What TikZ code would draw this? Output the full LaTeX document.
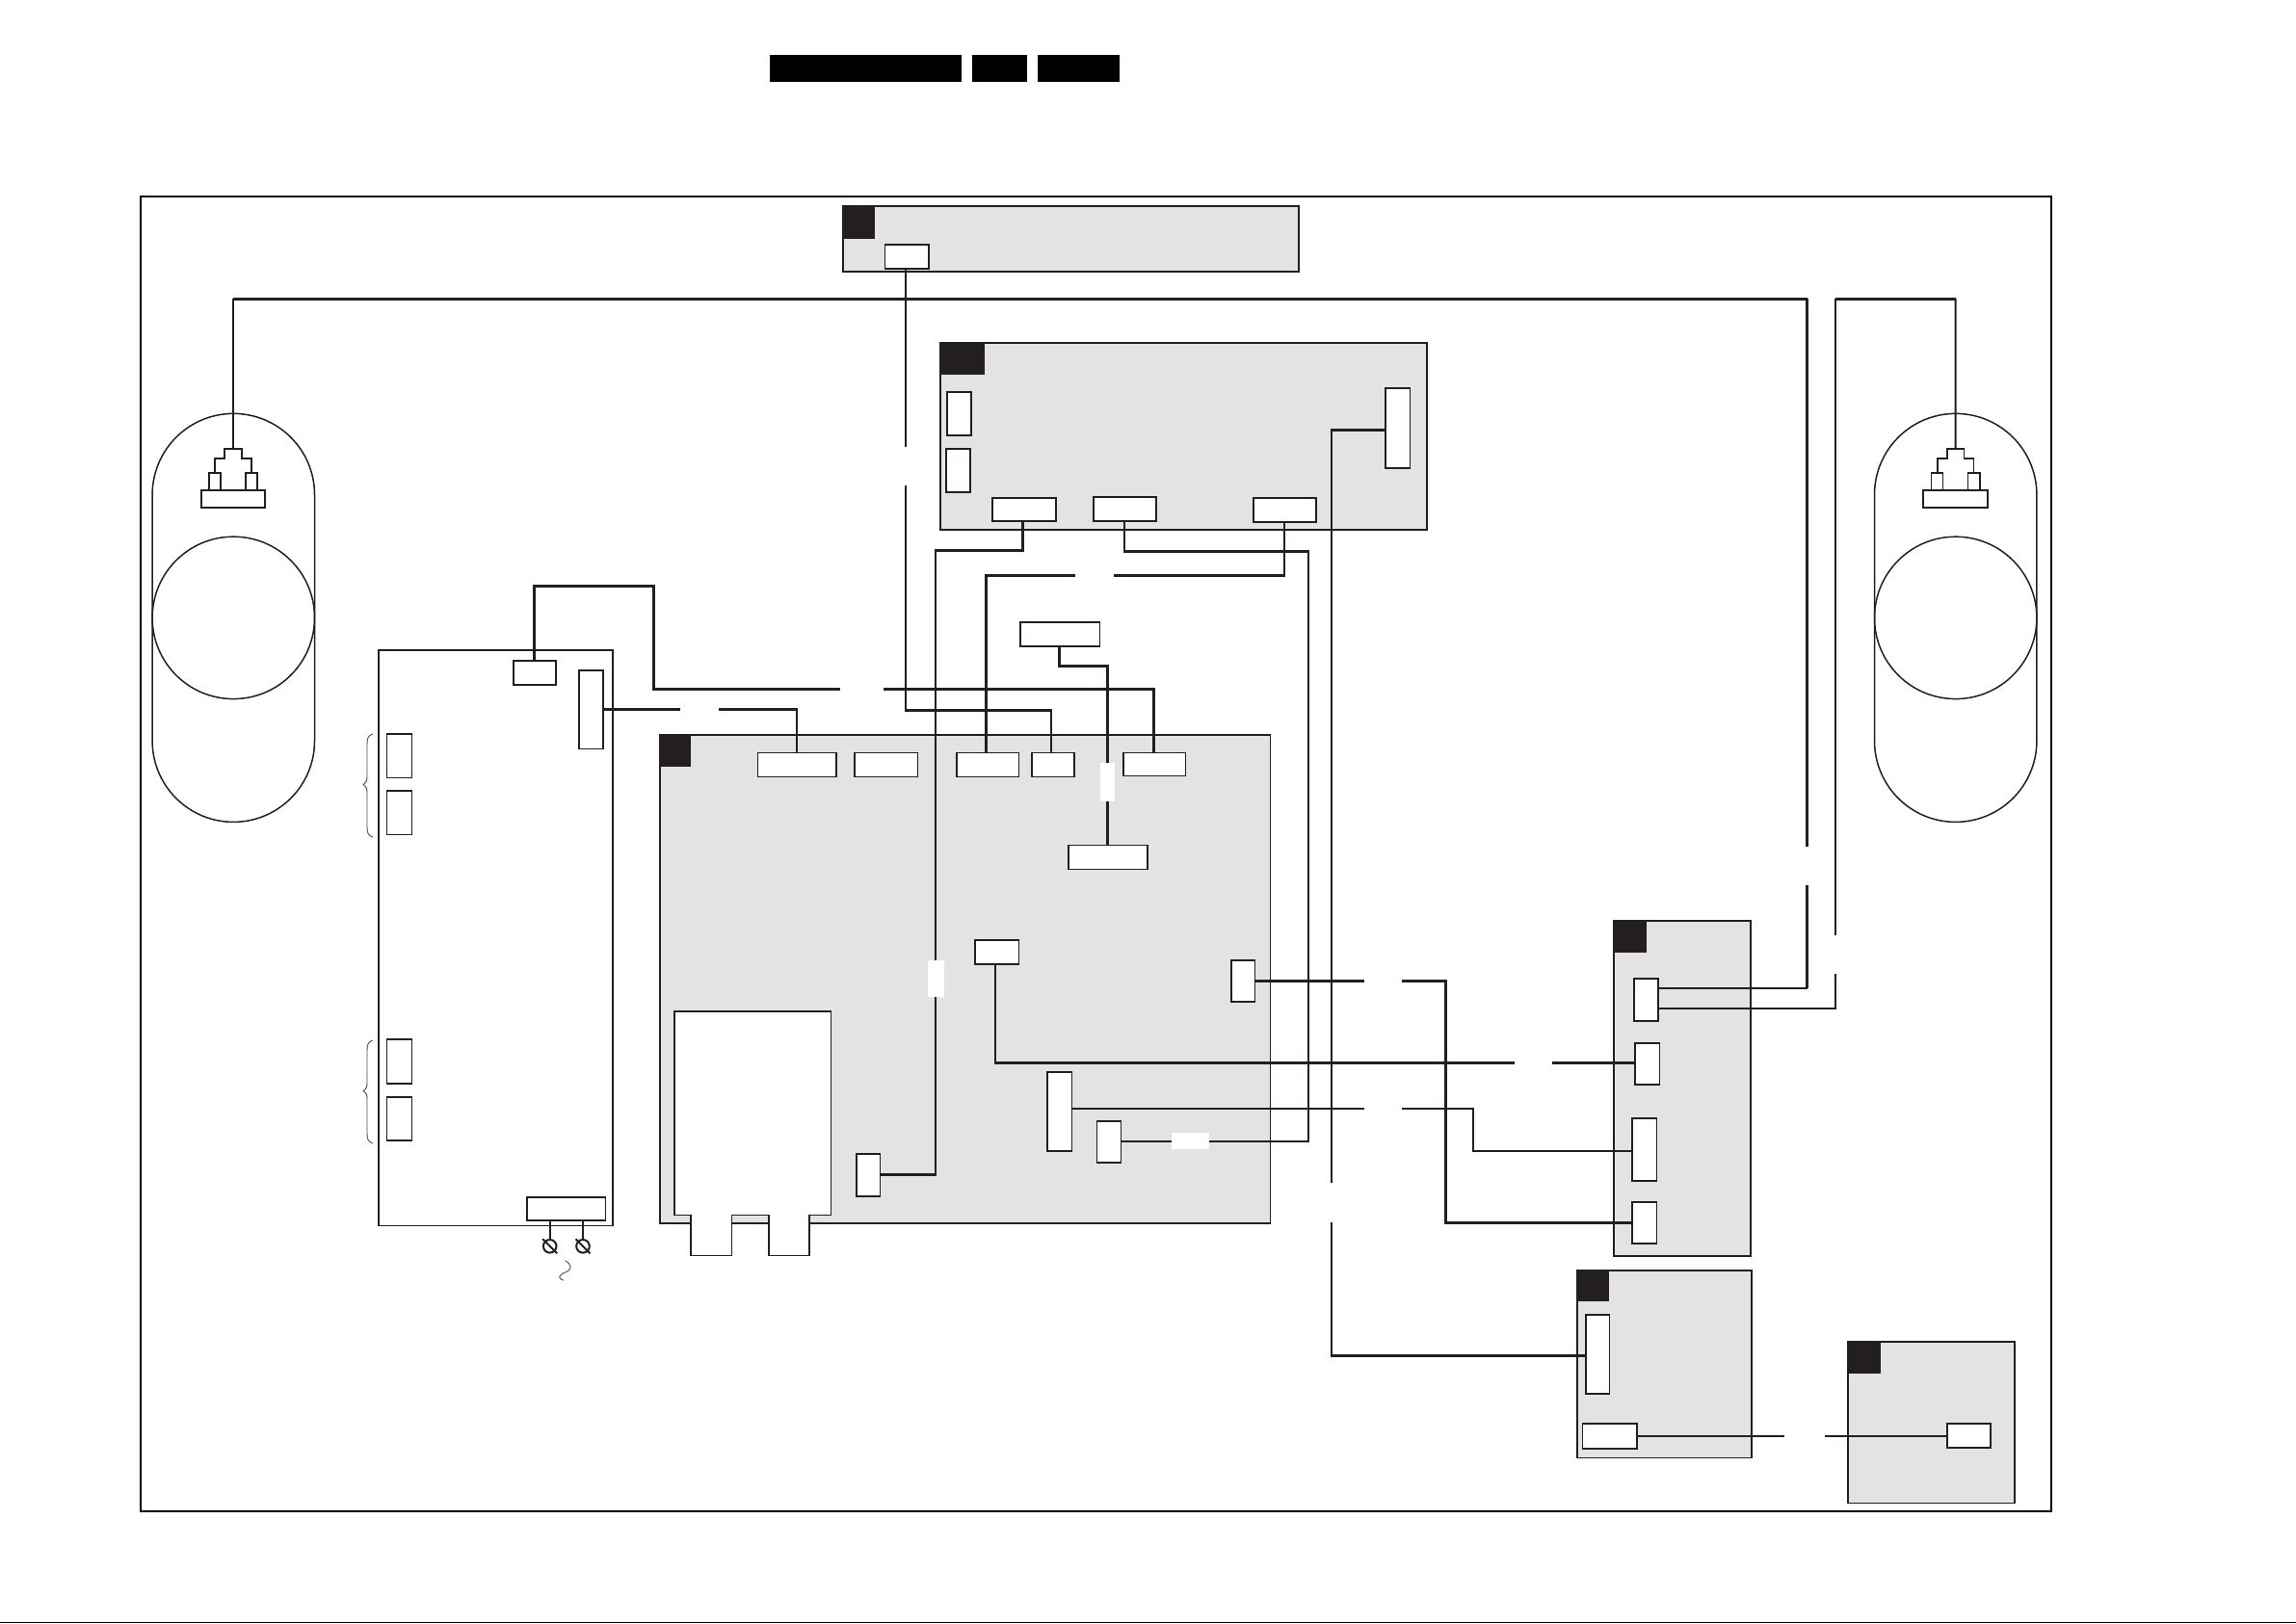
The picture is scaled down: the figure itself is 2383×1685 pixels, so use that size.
\documentclass[tikz,border=0pt]{standalone}
\usetikzlibrary{calc}
\definecolor{ink}{HTML}{231F20}
\definecolor{panel}{HTML}{E3E3E3}
\tikzset{
  conn/.style={draw=ink,fill=white,line width=1.9pt,inner sep=0pt,outer sep=0pt},
  board/.style={draw=ink,fill=panel,line width=1.6pt,inner sep=0pt,outer sep=0pt},
  plainbox/.style={draw=ink,fill=white,line width=1.5pt,inner sep=0pt,outer sep=0pt},
  tab/.style={fill=ink,inner sep=0pt,outer sep=0pt},
  bar/.style={fill=black,inner sep=0pt,outer sep=0pt},
  wire/.style={draw=ink,line width=2.5pt},
  wirethick/.style={draw=ink,line width=3.2pt},
  wirethin/.style={draw=ink,line width=1.9pt},
  outline/.style={draw=ink,line width=1.4pt},
  hair/.style={draw=ink!80,line width=.9pt}
}
\newcommand\bx[6]{\node[#1,minimum width={#5-#3},minimum height={#6-#4}] (#2) at ({(#3+#5)/2},{(#4+#6)/2}) {};}
\begin{document}
\begin{tikzpicture}[x=1pt,y=-1.0006pt]
\useasboundingbox (0,0) rectangle (2383,1684);
\fill[white] (0,0) rectangle (2383,1684);
% page edge
\fill[black] (0,1683) rectangle (2383,1684);
% header bars
\bx{bar}{barA}{799}{57}{998}{85}
\bx{bar}{barB}{1009}{57}{1066}{85}
\bx{bar}{barC}{1077}{57}{1162}{85}
% frame
\bx{draw=black,line width=2pt,inner sep=0pt}{frame}{145.5}{203}{2129}{1568}
% boards
\bx{board}{ba}{875}{214}{1348}{282}
\bx{board}{bb}{976}{356}{1481}{550}
\bx{board}{bc}{685}{762.5}{1318.5}{1269.5}
\bx{board}{bd}{1675}{955.5}{1817}{1303.5}
\bx{board}{be}{1637}{1318}{1818}{1512.5}
\bx{board}{bf}{1918}{1392}{2091}{1559.5}
\bx{plainbox}{psu}{393}{674.5}{636}{1272}
% tabs
\bx{tab}{ta}{875}{214}{908}{247.5}
\bx{tab}{tb}{976}{356}{1022}{389}
\bx{tab}{tc}{685}{762.5}{717}{795.5}
\bx{tab}{td}{1675}{955.5}{1709}{988.5}
\bx{tab}{te}{1637}{1318}{1670}{1350.5}
\bx{tab}{tf}{1918}{1392}{1952}{1425}
% card outline in main board
\draw[fill=white,outline] (700,1049.5) -- (862.5,1049.5) -- (862.5,1260.7) -- (840,1260.7) -- (840,1303) -- (798,1303) -- (798,1260.7) -- (759.7,1260.7) -- (759.7,1303) -- (717,1303) -- (717,1260.7) -- (700,1260.7) -- cycle;
% speakers
\node[draw=ink,line width=1.5pt,inner sep=0pt,outer sep=0pt,rounded corners=84.2pt,minimum width=168.4pt,minimum height=424pt] (spkL) at (242.3,641) {};
\node[draw=ink,line width=1.5pt,inner sep=0pt,outer sep=0pt,rounded corners=84.2pt,minimum width=168.4pt,minimum height=424pt] (spkR) at (2029.7,641) {};
\node[draw=ink,line width=1.5pt,circle,inner sep=0pt,outer sep=0pt,minimum size=168.4pt] (coneL) at (242.3,641) {};
\node[draw=ink,line width=1.5pt,circle,inner sep=0pt,outer sep=0pt,minimum size=168.4pt] (coneR) at (2029.7,641) {};
% speaker plugs
\foreach \o/\n in {0/L,1787.4/R}{
  \begin{scope}[xshift=\o pt]
  \draw[outline,line width=1.8pt] (223.3,490.7) -- (223.3,475.7) -- (233.3,475.7) -- (233.3,465.7) -- (251,465.7) -- (251,475.7) -- (261,475.7) -- (261,490.7);
  \draw[outline,line width=1.8pt] (217,508.7) rectangle (229,490.7);
  \draw[outline,line width=1.8pt] (255,508.7) rectangle (267.3,490.7);
  \bx{conn}{plug\n}{209}{508.7}{275.3}{527}
  \coordinate (plugtop\n) at (242.2,465.7);
  \end{scope}
}
% connectors
\bx{conn}{a1}{918.5}{254}{964}{279}
\bx{conn}{b1}{983}{407}{1008}{452}
\bx{conn}{b2}{982}{466}{1007}{511}
\bx{conn}{b3}{1030}{517}{1096}{541}
\bx{conn}{b4}{1135}{516}{1200}{541}
\bx{conn}{b5}{1301}{517}{1366}{542}
\bx{conn}{b6}{1438}{403}{1463.5}{486}
\bx{conn}{p1}{533}{686}{577}{711}
\bx{conn}{p2}{601}{695.5}{626}{777}
\bx{conn}{p3}{401.5}{761.5}{427.5}{807}
\bx{conn}{p4}{401.5}{820.5}{427.5}{866}
\bx{conn}{p5}{401.5}{1078.5}{427.5}{1124}
\bx{conn}{p6}{401.5}{1138}{427.5}{1183}
\bx{conn}{p7}{547}{1242}{628.5}{1266}
\bx{conn}{c0}{1059}{646}{1141.5}{671}
\bx{conn}{c1}{786.5}{781}{868}{806}
\bx{conn}{c2}{887}{781}{952.5}{806}
\bx{conn}{c3}{993}{781}{1057.5}{806}
\bx{conn}{c4}{1071}{781}{1115}{806}
\bx{conn}{c5}{1166}{781}{1230.5}{805}
\bx{conn}{c6}{1109}{877}{1191}{902}
\bx{conn}{c7}{1012}{975}{1057.5}{1000}
\bx{conn}{c8}{1278}{996.5}{1302.5}{1039}
\bx{conn}{c9}{1087}{1112}{1112.5}{1194}
\bx{conn}{c10}{1138.5}{1163}{1163.5}{1206}
\bx{conn}{c11}{889}{1197}{913.5}{1241}
\bx{conn}{d1}{1696}{1015.5}{1721}{1059}
\bx{conn}{d2}{1697}{1082}{1722.5}{1125}
\bx{conn}{d3}{1694}{1160}{1719.5}{1225}
\bx{conn}{d4}{1694}{1247}{1719.5}{1290}
\bx{conn}{e1}{1646}{1364}{1670.5}{1446}
\bx{conn}{e2}{1642.5}{1477}{1699}{1503}
\bx{conn}{f1}{2021}{1477}{2066}{1502}
% wires
\draw[wire] (a1.south -| 940,0) -- (940,737) -- (1091,737) -- (c4.north -| 1091,0);
\draw[wirethin] (plugtopL) -- (242.2,310);
\draw[wirethick] (242.2,310) -- (1875.6,310);
\draw[wire] (1875.6,310) -- (1875.6,1025);
\draw[wirethin] (1875.6,1025) -- (d1.east |- 0,1025);
\draw[wirethin] (plugtopR) -- (2029.6,310);
\draw[wirethick] (2029.6,310) -- (1905,310);
\draw[wire] (1905,310) -- (1905,1046.5) -- (d1.east |- 0,1046.5);
\draw[wirethick] (p1.north -| 554.5,0) -- (554.5,608) -- (678.5,608) -- (678.5,715.4) -- (1197.5,715.4) -- (c5.north -| 1197.5,0);
\draw[wire] (p2.east |- 0,736) -- (827,736) -- (c1.north -| 827,0);
\draw[wire] (b3.south -| 1061.5,0) -- (1061.5,571) -- (971,571) -- (971,1219) -- (c11.east |- 0,1219);
\draw[wire] (b4.south -| 1167,0) -- (1167,572) -- (1358,572) -- (1358,1184.5) -- (c10.east |- 0,1184.5);
\draw[wire] (b5.south -| 1333,0) -- (1333,597) -- (1023.5,597) -- (c3.north -| 1023.5,0);
\draw[wire] (b6.west |- 0,446) -- (1382,446) -- (1382,1407) -- (e1.west |- 0,1407);
\draw[wire] (c0.south -| 1099.5,0) -- (1099.5,691) -- (1149.5,691) -- (c6.north -| 1149.5,0);
\draw[wire] (c7.south -| 1033,0) -- (1033,1103) -- (d2.west |- 0,1103);
\draw[wirethick] (c8.east |- 0,1017.5) -- (1500.7,1017.5) -- (1500.7,1269) -- (d4.west |- 0,1269);
\draw[wirethin] (c9.east |- 0,1150.7) -- (1529,1150.7) -- (1529,1194) -- (d3.west |- 0,1194);
\draw[wirethick] (1382,1407) -- (e1.west |- 0,1407);
\draw[wirethin] (e2.east |- 0,1490) -- (f1.west |- 0,1490);
% wire breaks
\foreach \xa/\ya/\xb/\yb in {
  935/464/945/504, 872/711/917/720, 706/732/746/740, 1116/592/1156/602,
  1377/1227/1387/1268, 1871/878.5/1880/918, 1900/970.5/1910/1010,
  1415.5/1012/1455/1023, 1415.5/1146/1455/1155, 1572/1098/1611/1108,
  1852/1486/1893.5/1494}{
  \fill[white] (\xa,\ya) rectangle (\xb,\yb);
}
\fill[white] (1142,792) rectangle (1157,831);
\fill[white] (963,996) rectangle (980,1034);
\fill[white] (1216,1175) rectangle (1255,1192);
% mains leads
\coordinate (scrA) at (570.7,1293);
\coordinate (scrB) at (605,1293);
\draw[wirethin] (p7.south -| scrA) -- (scrA);
\draw[wire] (p7.south -| scrB) -- (scrB);
\foreach \c in {scrA,scrB}{
  \draw[draw=ink,line width=2pt,fill=white] (\c) circle (6.8pt);
  \draw[draw=ink,line width=2pt] ($(\c)+(-7.5,-7.5)$) -- ($(\c)+(7.5,7.5)$);
}
\draw[hair] (586.5,1308) .. controls (594,1312) and (594,1317) .. (587,1320) .. controls (579,1323) and (579,1327) .. (585,1328.5);
% braces
\foreach \t in {0,318}{
  \begin{scope}[yshift=-\t pt]
  \draw[hair] (387,761.5) .. controls (382,763) and (381,766) .. (381,772) -- (381,806) .. controls (381,810) and (380,812) .. (377,814) .. controls (380,816) and (381,818) .. (381,822) -- (381,858) .. controls (381,864) and (382,867) .. (387,868.5);
  \end{scope}
}
\end{tikzpicture}
\end{document}
